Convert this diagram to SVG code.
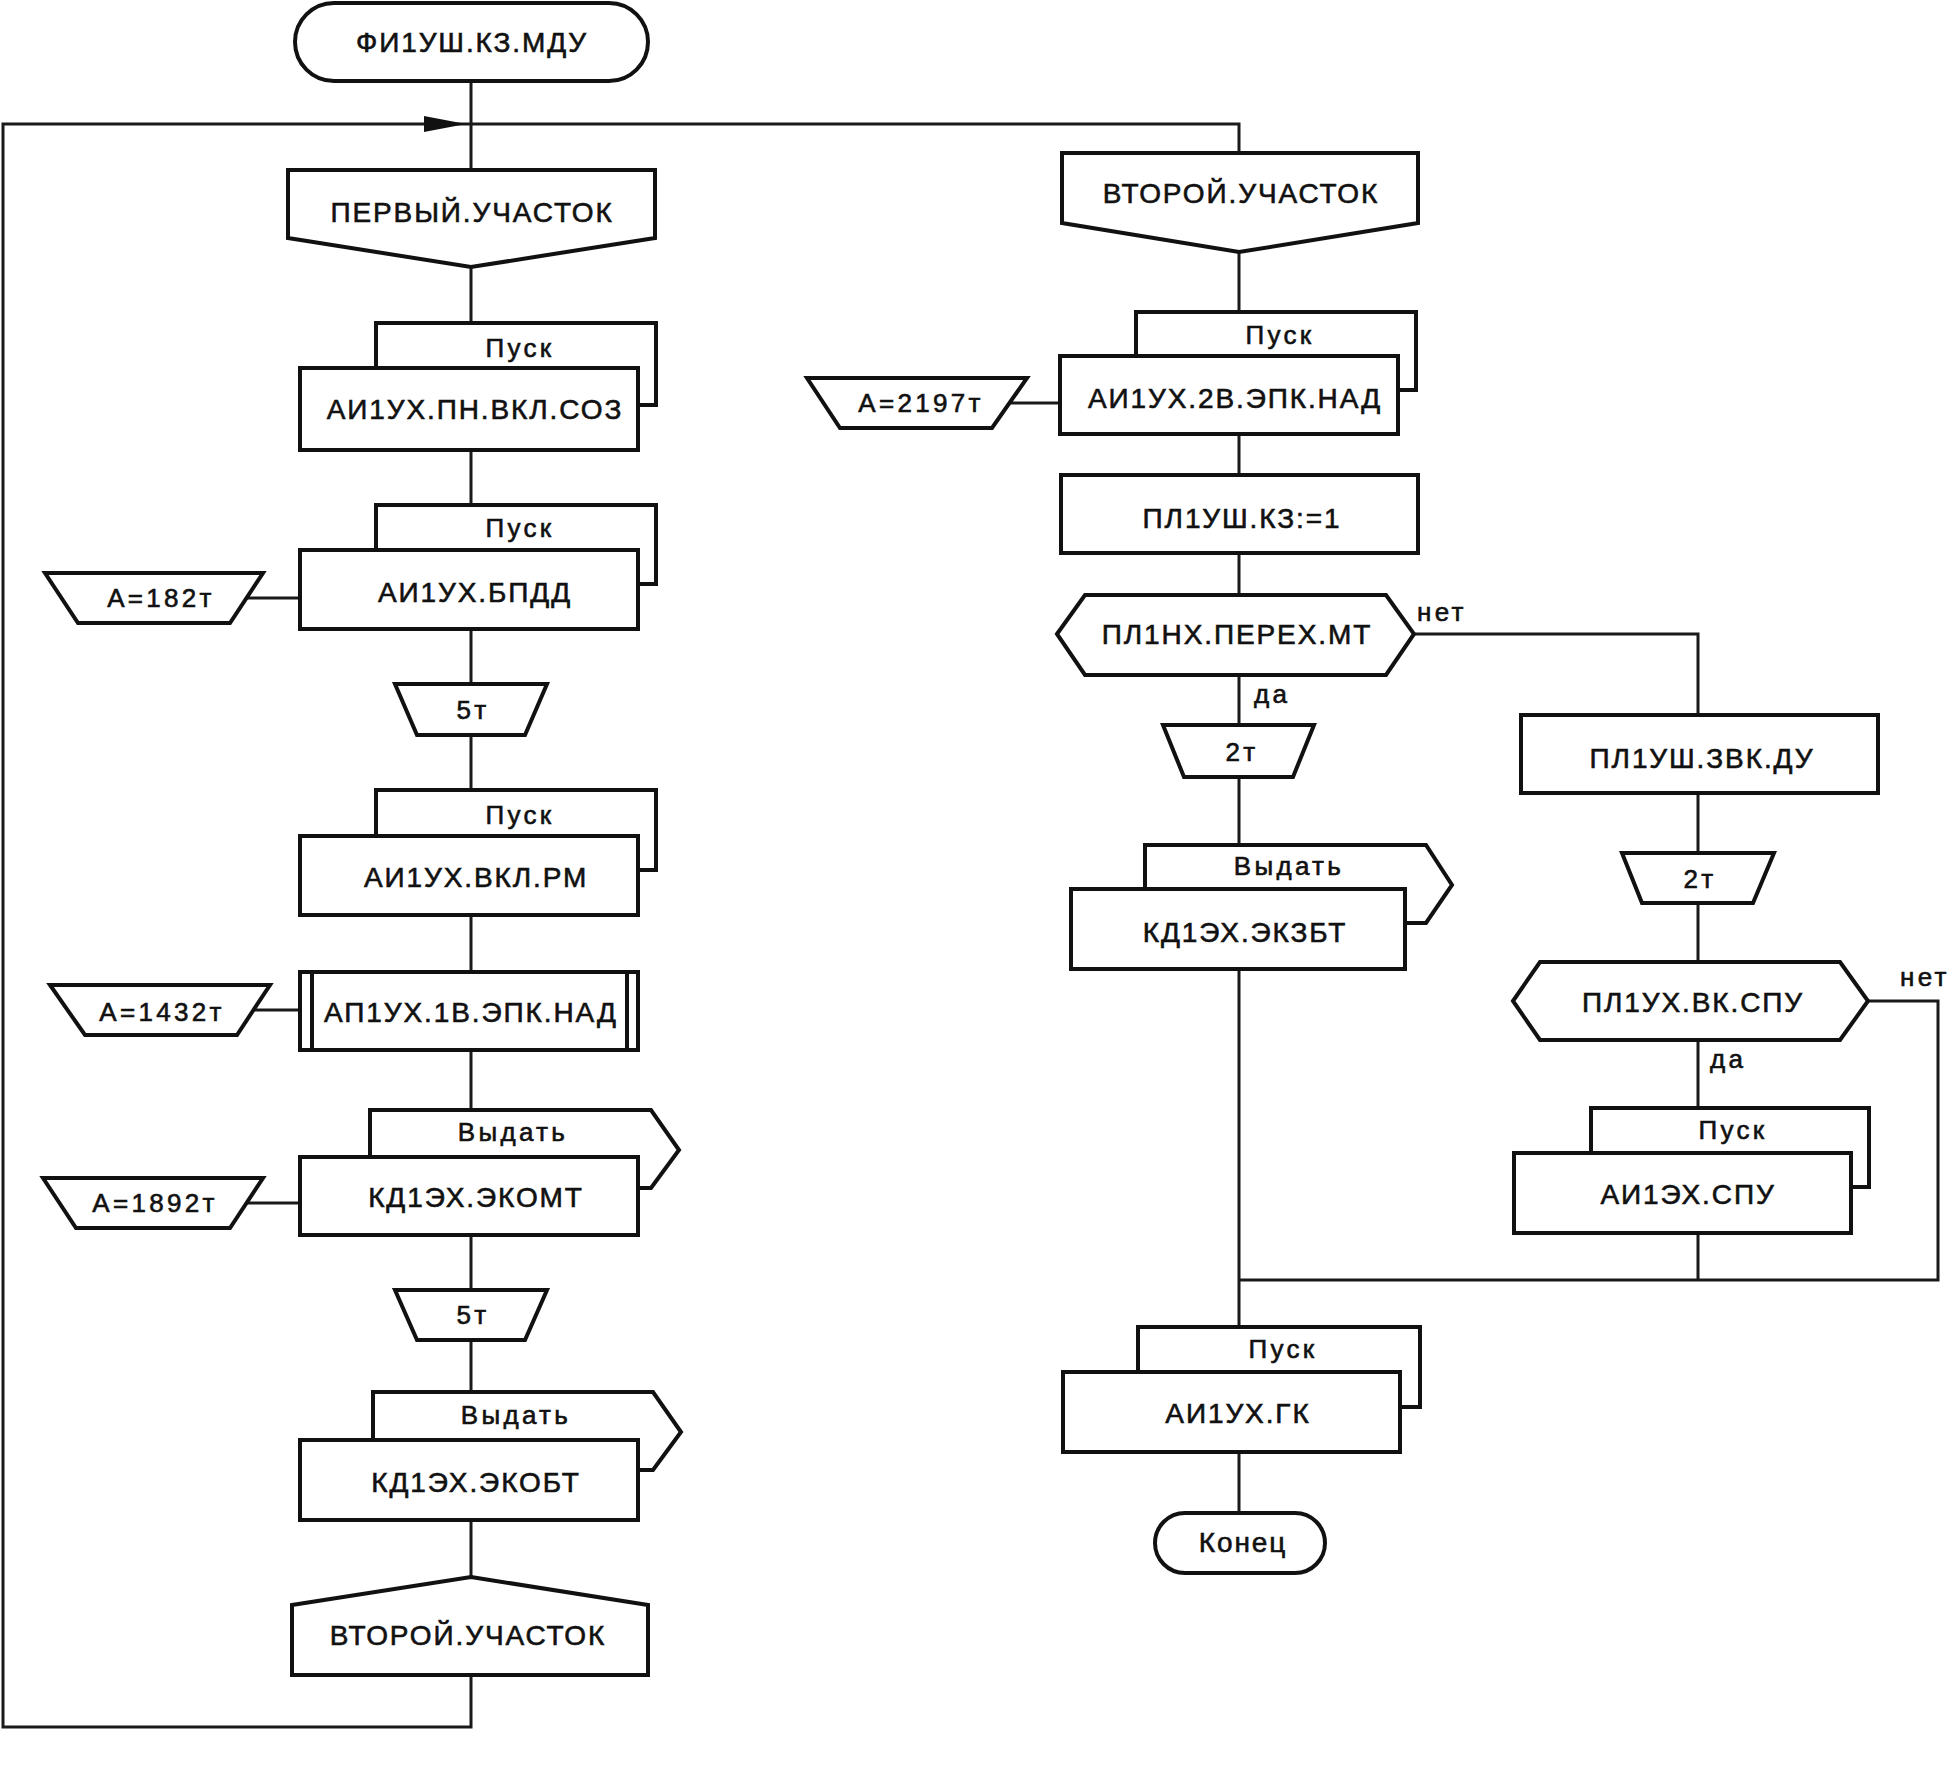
<svg xmlns="http://www.w3.org/2000/svg" width="1948" height="1766" viewBox="0 0 1948 1766">
<style>
.s{fill:#fff;stroke:#111;stroke-width:4;stroke-linejoin:miter}
.b{fill:none;stroke:#111;stroke-width:4}
.c{fill:none;stroke:#1a1a1a;stroke-width:3}
text{font-family:"Liberation Sans",Arial,sans-serif;fill:#111;stroke:#111;stroke-width:0.6px;text-anchor:middle}
.m{font-size:28px;letter-spacing:1.9px}
.l{font-size:26px;letter-spacing:3.3px}
.n{text-anchor:start}
</style>
<defs>
<marker id="arr" markerWidth="42" markerHeight="16" refX="42" refY="8" orient="auto" markerUnits="userSpaceOnUse">
<polygon points="0,0 42,8 0,16" fill="#111"/>
</marker>
</defs>
<rect width="1948" height="1766" fill="#fff"/>
<g id="connectors">
<path class="c" d="M471,81V170M471,267V323M471,450V505M471,629V684M471,735V790M471,915V972M471,1050V1110M471,1235V1290M471,1340V1392M471,1520V1577"/>
<path class="c" d="M471,1675V1727H3V124H466" marker-end="url(#arr)"/>
<path class="c" d="M466,124H1239V153"/>
<path class="c" d="M247,598H300M253,1010H300M247,1203H300M1010,403H1060"/>
<path class="c" d="M1239,252V312M1239,434V475M1239,553V595M1239,675V725M1239,777V845M1239,969V1327M1239,1452V1513"/>
<path class="c" d="M1414,634H1698V715M1698,793V853M1698,903V962M1698,1040V1108M1698,1233V1280"/>
<path class="c" d="M1868,1001H1938V1280H1239"/>
</g>
<g id="start"><rect class="s" x="295" y="3" width="353" height="78" rx="39"/><text class="m" x="472" y="52">ФИ1УШ.КЗ.МДУ</text></g>
<g id="loop1"><polygon class="s" points="288,170 655,170 655,238 471,267 288,238"/><text class="m" x="472" y="222">ПЕРВЫЙ.УЧАСТОК</text></g>
<g id="n1"><path class="b" d="M376,368V323H656V405H639"/><text class="l" x="520" y="357">Пуск</text><rect class="s" x="300" y="368" width="338" height="82"/><text class="m" x="475" y="419">АИ1УХ.ПН.ВКЛ.СОЗ</text></g>
<g id="n2"><path class="b" d="M376,550V505H656V584H639"/><text class="l" x="520" y="537">Пуск</text><rect class="s" x="300" y="550" width="338" height="79"/><text class="m" x="475" y="602">АИ1УХ.БПДД</text></g>
<g id="p1"><polygon class="s" points="45,573 263,573 230,623 78,623"/><text class="l" x="161" y="607">А=182т</text></g>
<g id="d1"><polygon class="s" points="395,684 547,684 525,735 417,735"/><text class="l" x="473" y="719">5т</text></g>
<g id="n3"><path class="b" d="M376,836V790H656V870H639"/><text class="l" x="520" y="824">Пуск</text><rect class="s" x="300" y="836" width="338" height="79"/><text class="m" x="476" y="887">АИ1УХ.ВКЛ.РМ</text></g>
<g id="n4"><rect class="s" x="300" y="972" width="338" height="78"/><path class="b" d="M312,972V1050M627,972V1050"/><text class="m" x="471" y="1022">АП1УХ.1В.ЭПК.НАД</text></g>
<g id="p2"><polygon class="s" points="50,985 270,985 237,1035 85,1035"/><text class="l" x="162" y="1021">А=1432т</text></g>
<g id="n5"><path class="b" d="M370,1157V1110H651L679,1150L651,1188H638"/><text class="l" x="513" y="1141">Выдать</text><rect class="s" x="300" y="1157" width="338" height="78"/><text class="m" x="476" y="1207">КД1ЭХ.ЭКОМТ</text></g>
<g id="p3"><polygon class="s" points="43,1178 263,1178 230,1228 76,1228"/><text class="l" x="155" y="1212">А=1892т</text></g>
<g id="d2"><polygon class="s" points="395,1290 547,1290 525,1340 417,1340"/><text class="l" x="473" y="1324">5т</text></g>
<g id="n6"><path class="b" d="M373,1440V1392H653L681,1432L653,1470H638"/><text class="l" x="516" y="1424">Выдать</text><rect class="s" x="300" y="1440" width="338" height="80"/><text class="m" x="476" y="1492">КД1ЭХ.ЭКОБТ</text></g>
<g id="loop1end"><polygon class="s" points="471,1577 648,1605 648,1675 292,1675 292,1605"/><text class="m" x="468" y="1645">ВТОРОЙ.УЧАСТОК</text></g>
<g id="loop2"><polygon class="s" points="1062,153 1418,153 1418,223 1239,252 1062,223"/><text class="m" x="1241" y="203">ВТОРОЙ.УЧАСТОК</text></g>
<g id="r1"><path class="b" d="M1136,356V312H1416V390H1398"/><text class="l" x="1280" y="344">Пуск</text><rect class="s" x="1060" y="356" width="338" height="78"/><text class="m" x="1235" y="408">АИ1УХ.2В.ЭПК.НАД</text></g>
<g id="p4"><polygon class="s" points="807,378 1027,378 992,428 840,428"/><text class="l" x="921" y="412">А=2197т</text></g>
<g id="r2"><rect class="s" x="1061" y="475" width="357" height="78"/><text class="m" x="1242" y="528">ПЛ1УШ.КЗ:=1</text></g>
<g id="q1"><polygon class="s" points="1057,634 1085,595 1386,595 1414,634 1386,675 1085,675"/><text class="m" x="1237" y="644">ПЛ1НХ.ПЕРЕХ.МТ</text><text class="l n" x="1417" y="621">нет</text><text class="l n" x="1254" y="703">да</text></g>
<g id="d3"><polygon class="s" points="1163,725 1314,725 1293,777 1184,777"/><text class="l" x="1242" y="761">2т</text></g>
<g id="r3"><path class="b" d="M1145,889V845H1426L1452,885L1426,923H1405"/><text class="l" x="1289" y="875">Выдать</text><rect class="s" x="1071" y="889" width="334" height="80"/><text class="m" x="1245" y="942">КД1ЭХ.ЭКЗБТ</text></g>
<g id="r4"><rect class="s" x="1521" y="715" width="357" height="78"/><text class="m" x="1702" y="768">ПЛ1УШ.ЗВК.ДУ</text></g>
<g id="d4"><polygon class="s" points="1622,853 1774,853 1753,903 1642,903"/><text class="l" x="1700" y="888">2т</text></g>
<g id="q2"><polygon class="s" points="1513,1001 1540,962 1840,962 1868,1001 1840,1040 1540,1040"/><text class="m" x="1693" y="1012">ПЛ1УХ.ВК.СПУ</text><text class="l n" x="1900" y="986">нет</text><text class="l n" x="1710" y="1068">да</text></g>
<g id="r5"><path class="b" d="M1591,1153V1108H1869V1187H1851"/><text class="l" x="1733" y="1139">Пуск</text><rect class="s" x="1514" y="1153" width="337" height="80"/><text class="m" x="1688" y="1204">АИ1ЭХ.СПУ</text></g>
<g id="r6"><path class="b" d="M1138,1372V1327H1420V1407H1400"/><text class="l" x="1283" y="1358">Пуск</text><rect class="s" x="1063" y="1372" width="337" height="80"/><text class="m" x="1238" y="1423">АИ1УХ.ГК</text></g>
<g id="end"><rect class="s" x="1155" y="1513" width="170" height="60" rx="30"/><text class="m" x="1243" y="1552">Конец</text></g>
</svg>
